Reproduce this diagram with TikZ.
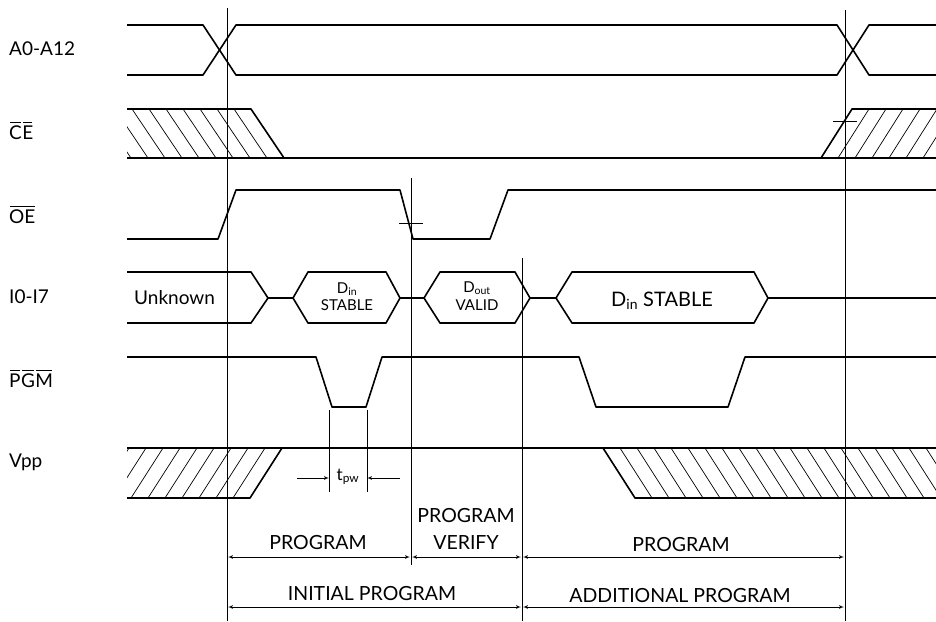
\documentclass[tikz,border=0pt]{standalone}
\usepackage{fontspec}
\setmainfont{Lato}
\usetikzlibrary{arrows}
\tikzset{
	sigline/.style   = {line width=1.6pt, line join=round},
	refline/.style   = {line width=0.7pt},
	hatchline/.style = {line width=0.7pt},
	barline/.style   = {line width=1pt},
	siglabel/.style  = {font=\fontsize{19}{22}\selectfont, anchor=west, inner sep=0pt},
	spanarrow/.style = {<->, >=latex', line width=0.7pt, shorten <=1pt, shorten >=1pt},
	spantext/.style  = {font=\fontsize{19.5}{22}\selectfont, inner sep=0pt},
	datatext/.style  = {font=\fontsize{15}{18}\selectfont, inner sep=0pt},
	pwtext/.style    = {font=\fontsize{17}{20}\selectfont, inner sep=0pt},
	bigtext/.style   = {font=\fontsize{20}{22}\selectfont, inner sep=0pt}
}
\newcommand{\reftick}[1]{\draw[refline] ([xshift=-12pt]#1) -- ([xshift=12pt]#1);}
\newcommand{\overbar}[1]{\draw[barline] ([xshift=1pt,yshift=3pt]#1.north west) -- ([xshift=-1pt,yshift=3pt]#1.north east);}

\begin{document}
\begin{tikzpicture}[x=1pt, y=-1pt]
	\useasboundingbox (0,0) rectangle (936,621);
	% signal names
	\node[siglabel] (nA)  at (9,49)  {A0-A12};
	\node[siglabel] (nC)  at (9,133) {C};
	\node[siglabel, anchor=base west] (nE) at (nC.base east) {E};
	\node[siglabel] (nOE) at (9,217) {OE};
	\node[siglabel] (nIO) at (9,297) {I0-I7};
	\node[siglabel] (nP)  at (9,381) {P};
	\node[siglabel, anchor=base west] (nG) at (nP.base east) {G};
	\node[siglabel, anchor=base west] (nM) at (nG.base east) {M};
	\node[siglabel] (nVp) at (9,462) {Vpp};
	\overbar{nC}
	\overbar{nE}
	\overbar{nOE}
	\overbar{nP}
	\overbar{nG}
	\overbar{nM}
	% reference lines
	\coordinate (v1t) at (227,8);   \coordinate (v1b) at (227,621);
	\coordinate (v2t) at (411,178); \coordinate (v2b) at (411,565);
	\coordinate (v3t) at (522,258); \coordinate (v3b) at (522,621);
	\coordinate (v4t) at (845,10);  \coordinate (v4b) at (845,621);
	\draw[refline] (v1t) -- (v1b);
	\draw[refline] (v2t) -- (v2b);
	\draw[refline] (v3t) -- (v3b);
	\draw[refline] (v4t) -- (v4b);
	% A0-A12
	\draw[sigline] (127,25) -- (203,25) -- (236,75) -- (837,75) -- (869,25) -- (936,25);
	\draw[sigline] (127,75) -- (203,75) -- (236,25) -- (837,25) -- (869,75) -- (936,75);
	% CE
	\begin{scope}
		\clip (127,109) -- (251,109) -- (284,158) -- (127,158) -- cycle;
		\foreach \x in {251,234,...,80}
			\draw[hatchline] (\x,109) -- ++(33,49);
	\end{scope}
	\begin{scope}
		\clip (821,158) -- (852,109) -- (936,109) -- (936,158) -- cycle;
		\foreach \x in {821,838,...,940}
			\draw[hatchline] (\x,158) -- ++(31,-49);
	\end{scope}
	\draw[sigline] (127,109) -- (251,109) -- (284,158);
	\draw[sigline] (127,158) -- (936,158);
	\draw[sigline] (821,158) -- (852,109) -- (936,109);
	\coordinate (tk2) at (845,121);
	\reftick{tk2}
	% OE
	\draw[sigline] (127,239) -- (218,239) -- (236,190) -- (400,190) -- (413,239)
		-- (490,239) -- (508,190) -- (936,190);
	\coordinate (tk1) at (411,223);
	\reftick{tk1}
	% I0-I7
	\draw[sigline] (127,272) -- (251,272) -- (268,298) -- (251,323) -- (127,323);
	\draw[sigline] (268,298) -- (293,298);
	\draw[sigline] (293,298) -- (308,272) -- (386,272) -- (400,298) -- (386,323) -- (308,323) -- cycle;
	\draw[sigline] (400,298) -- (424,298);
	\draw[sigline] (424,298) -- (440,272) -- (515,272) -- (530,298) -- (515,323) -- (440,323) -- cycle;
	\draw[sigline] (530,298) -- (556,298);
	\draw[sigline] (556,298) -- (572,272) -- (754,272) -- (768,298) -- (754,323) -- (572,323) -- cycle;
	\draw[sigline] (768,298) -- (936,298);
	\node[siglabel] (unk) at (134,298) {Unknown};
	\node[datatext] (din1a) at (347,289) {D\textsubscript{in}};
	\node[datatext] (din1b) at (347,305) {STABLE};
	\node[datatext] (douta) at (477,288) {D\textsubscript{out}};
	\node[datatext] (doutb) at (477,305) {VALID};
	\node[bigtext] (din2) at (662,301) {D\textsubscript{in} STABLE};
	% PGM
	\draw[sigline] (127,357) -- (316,357) -- (332,407) -- (366,407) -- (382,357)
		-- (579,357) -- (596,407) -- (728,407) -- (745,357) -- (936,357);
	\coordinate (pw1t) at (329,410); \coordinate (pw1b) at (329,492);
	\coordinate (pw2t) at (367,410); \coordinate (pw2b) at (367,492);
	\draw[refline] (pw1t) -- (pw1b);
	\draw[refline] (pw2t) -- (pw2b);
	\coordinate (pwl) at (297,478); \coordinate (pwr) at (400,478);
	\draw[refline, -latex'] (pwl) -- (pwl -| pw1t);
	\draw[refline, -latex'] (pwr) -- (pwr -| pw2t);
	\node[pwtext] (tpw) at (348,477) {t\textsubscript{pw}};
	% Vpp
	\begin{scope}
		\clip (127,448) -- (282,448) -- (250,498) -- (127,498) -- cycle;
		\foreach \x in {250,233,...,80}
			\draw[hatchline] (\x,498) -- ++(32,-50);
	\end{scope}
	\begin{scope}
		\clip (603,448) -- (936,448) -- (936,498) -- (635,498) -- cycle;
		\foreach \x in {603,620,...,940}
			\draw[hatchline] (\x,448) -- ++(32,50);
	\end{scope}
	\draw[sigline] (127,448) -- (936,448);
	\draw[sigline] (127,498) -- (250,498) -- (282,448);
	\draw[sigline] (603,448) -- (635,498) -- (936,498);
	% phases
	\coordinate (r1) at (0,557);
	\coordinate (r2) at (0,607);
	\draw[spanarrow] (v1t |- r1) -- (v2t |- r1);
	\draw[spanarrow] (v2t |- r1) -- (v3t |- r1);
	\draw[spanarrow] (v3t |- r1) -- (v4t |- r1);
	\draw[spanarrow] (v1t |- r2) -- (v3t |- r2);
	\draw[spanarrow] (v3t |- r2) -- (v4t |- r2);
	\node[spantext] (ph1) at (318,543) {PROGRAM};
	\node[spantext] (ph2) at (466,516) {PROGRAM};
	\node[spantext] (ph3) at (466,543) {VERIFY};
	\node[spantext] (ph4) at (681,545) {PROGRAM};
	\node[spantext] (ph5) at (372,594) {INITIAL PROGRAM};
	\node[spantext] (ph6) at (680,596) {ADDITIONAL PROGRAM};
\end{tikzpicture}
\end{document}
